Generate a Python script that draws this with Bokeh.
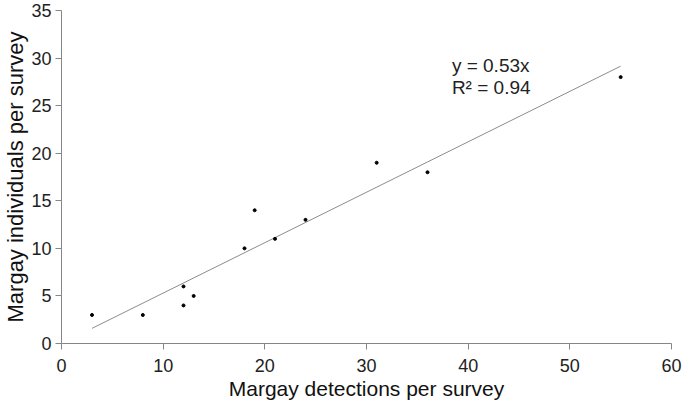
from bokeh.plotting import figure
from bokeh.models import Range1d, FixedTicker, Label
from bokeh.embed import file_html
from bokeh.resources import INLINE

detections = [3, 8, 12, 12, 13, 18, 19, 21, 24, 31, 36, 55]
individuals = [3, 3, 4, 6, 5, 10, 14, 11, 13, 19, 18, 28]
slope = 0.53
x_ticks = [0, 10, 20, 30, 40, 50, 60]
y_ticks = [0, 5, 10, 15, 20, 25, 30, 35]

p = figure(width=683, height=405, output_backend="svg", toolbar_location=None,
           x_range=Range1d(0, 60), y_range=Range1d(0, 35),
           min_border_left=61, min_border_right=12, min_border_top=10, min_border_bottom=62)
p.outline_line_color = None
p.xgrid.visible = False
p.ygrid.visible = False

trend_x = [min(detections), max(detections)]
trend_y = [slope * v for v in trend_x]
p.line(trend_x, trend_y, line_color="#8c8c8c", line_width=1)
p.scatter(detections, individuals, size=3, color="black")

font = "Liberation Sans"
for ax in (p.xaxis[0], p.yaxis[0]):
    ax.axis_line_color = "#868686"
    ax.major_tick_line_color = "#868686"
    ax.major_tick_in = 0
    ax.minor_tick_line_color = None
    ax.major_label_text_font = font
    ax.major_label_text_color = "#222222"
    ax.axis_label_text_font = font
    ax.axis_label_text_font_style = "normal"
    ax.axis_label_text_color = "#111111"

p.xaxis.major_tick_out = 6
p.yaxis.major_tick_out = 6
p.xaxis.major_label_text_font_size = "18px"
p.yaxis.major_label_text_font_size = "18px"
p.xaxis.axis_label_text_font_size = "21px"
p.yaxis.axis_label_text_font_size = "22px"
p.xaxis.ticker = FixedTicker(ticks=x_ticks)
p.yaxis.ticker = FixedTicker(ticks=y_ticks)
p.xaxis.axis_label = "Margay detections per survey"
p.yaxis.axis_label = "Margay individuals per survey"
p.xaxis.major_label_standoff = 9
p.yaxis.major_label_standoff = 4
p.xaxis.axis_label_standoff = 2
p.yaxis.axis_label_standoff = 0

p.add_layout(Label(x=38.4, y=29.2, text="y = 0.53x", text_font=font,
                   text_font_size="19px", text_color="#222222", text_baseline="middle"))
p.add_layout(Label(x=38.4, y=26.9, text="R² = 0.94", text_font=font,
                   text_font_size="19px", text_color="#222222", text_baseline="middle"))

open("out.html", "w").write(file_html(p, INLINE))
